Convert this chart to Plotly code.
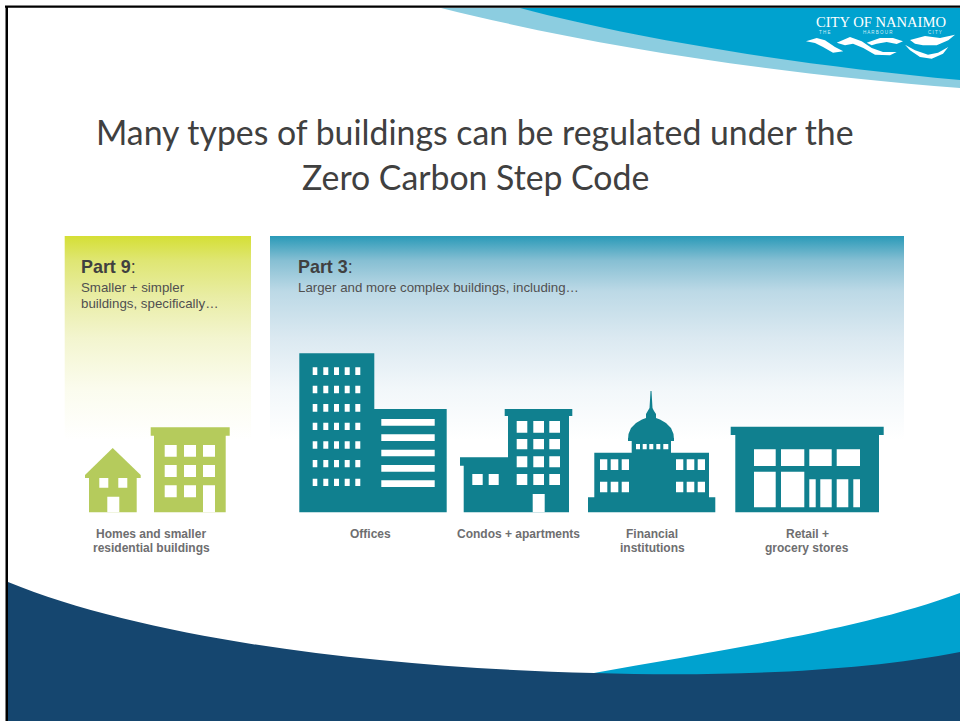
import plotly.graph_objects as go

W, H = 960, 721
NAVY = "#15466f"; CYAN = "#00a2cf"; PALE = "#8ccde0"; TEAL = "#10808f"; GREEN = "#b5cb5c"
GREY = "#6e6e70"; DARK = "#404040"; SUB = "#505050"

# ---- background swooshes (SVG paths in plot coordinates)
top_pale_path = "M 441 8 C 590 45 760 72 960 88 L 960 8 Z"
top_cyan_path = "M 520 8 C 640 40 800 65 960 80 L 960 8 Z"
bot_cyan_path = "M 594 673 C 720 650 860 630 960 593 L 960 721 L 594 721 Z"
bot_navy_path = "M 8 582 C 150 640 380 668 594 673 C 720 677 860 672 960 652 L 960 721 L 8 721 Z"

# ---- gradient panels: x0, x1, y0, y1
part9_panel = [64.7, 251, 236, 440]
part3_panel = [270, 904, 236, 440]
part9_stops = [[0, "#d5df35"], [0.12, "#dfe673"], [0.3, "#e9eda5"], [0.5, "#f3f5cf"], [0.75, "#fbfcee"], [1, "#ffffff"]]
part3_stops = [[0, "#2a9ab8"], [0.12, "#86bfd3"], [0.27, "#bcd9e6"], [0.5, "#dbe9f1"], [0.75, "#f2f7fa"], [1, "#ffffff"]]

# ---- buildings as rectangles: x0, x1, y0, y1
green_rects = [
    (89, 136.7, 476, 512.3),
    (150.7, 229.7, 427.3, 435.7),
    (154, 225.7, 435.7, 512.3),
]
house_roof_x = [85, 112.7, 140.7, 140.7, 85]
house_roof_y = [475, 448, 475, 478, 478]
green_holes = [
    (99.3, 108.3, 478, 487.7), (118.3, 127.3, 478, 487.7), (107.3, 119.3, 496.7, 512.3),
    (164.7, 176.7, 445, 456.7), (184, 196, 445, 456.7), (203, 215, 445, 456.7),
    (164.7, 176.7, 465, 477), (184, 196, 465, 477), (203, 215, 465, 477),
    (164.7, 176.7, 485.3, 497.3), (184, 196, 485.3, 497.3), (203, 215, 485.3, 512.3),
]
teal_rects = [
    (299.3, 374.3, 353.3, 512.3), (374, 446.7, 409, 512.3),
    (504.7, 572.3, 409, 416), (508, 569, 416, 512.3),
    (460, 508.5, 457.3, 465.7), (463.7, 508.5, 465.7, 512.3),
    (588, 715.3, 497.3, 512.3), (594.3, 709, 452.7, 497.5), (631.7, 671, 440, 453),
    (628, 674, 438, 441),
    (730.7, 883.7, 426.7, 435), (735.3, 879, 435, 512.3),
]
dome_x = [628, 628.5, 631, 636, 642, 646, 646, 648, 649.5, 650, 650.5, 651.5, 652, 652.5, 654, 656, 656, 660, 666, 671, 673.5, 674]
dome_y = [440, 434, 428, 423, 419.5, 418, 414, 411, 408, 400, 391, 391, 400, 408, 411, 414, 418, 419.5, 423, 428, 434, 440]
office_win_cols = [(312.7, 317.3), (323.3, 328.3), (334, 339), (344.7, 349.7), (355.3, 360.3)]
office_win_rows = [(367.3, 375), (385.7, 393.3), (404, 411.7), (422.7, 430), (441.3, 448.7), (460, 467.3), (478.7, 486)]
office_bar_rows = [(419, 425.7), (434.3, 441), (449.7, 456.3), (465, 471.7), (480.3, 487)]
office_bar_x = (381.3, 434.7)
condo_cols = [(516.7, 527.3), (533.3, 544), (549.3, 560)]
condo_rows = [(421, 432.7), (439, 449.3), (456.3, 467.3), (474, 485)]
other_holes = [
    (532.7, 544.7, 494, 512.3), (472.3, 482.7, 474, 485), (488.7, 498.7, 474, 485),
    (636, 640, 444, 449.3), (642.7, 646.7, 444, 449.3), (649.3, 653.3, 444, 449.3),
    (656.3, 660.3, 444, 449.3), (663.3, 668.3, 444, 449.3),
    (754, 775.7, 449.3, 466), (781, 804.3, 449.3, 466), (809.3, 831.7, 449.3, 466), (836.7, 860, 449.3, 466),
    (754, 775.7, 471.7, 507.3), (781, 804.3, 471.7, 507.3),
    (809.3, 815.7, 479.3, 507.3), (820.3, 831.7, 479.3, 507.3), (836.7, 848.3, 479.3, 507.3), (853.3, 860, 479.3, 507.3),
]
bank_cols = [(600, 607.3), (610.7, 618.3), (621.7, 629), (676, 683.3), (686.7, 694.3), (697.7, 705)]
bank_rows = [(459.3, 470), (481.7, 492.3)]

# ---- logo waves (x, y)
wave_polys = [
    ([806, 816.7, 825, 835, 843.3, 833, 823, 815], [41.3, 38, 40.3, 47, 51.3, 52.7, 47, 43]),
    ([836.7, 850, 861.7, 871.7, 883, 896.7, 890, 875, 863.3, 853, 845],
     [42.7, 37, 41.3, 48, 52, 52, 55.3, 54.7, 48, 43.7, 45.3]),
    ([866.7, 880, 893, 903, 896.7, 886.7, 876.7, 871.7], [42.7, 38, 38, 41.3, 44, 42, 43.7, 45.3]),
    ([910, 925, 940, 955, 948.3, 936.7, 923, 915], [40, 36, 38, 34.7, 40.3, 45.3, 45.3, 43.7]),
    ([905, 915, 928, 938, 948.3, 943, 931.7, 920, 910], [44.7, 50.3, 54.7, 52.7, 47, 53.7, 58.7, 57, 50.3]),
]

# ---- texts
title_lines = ["Many types of buildings can be regulated under the", "Zero Carbon Step Code"]
title_ys = [132, 177]
labels = [
    ("<b>Homes and smaller</b>", 151, 534), ("<b>residential buildings</b>", 151, 548),
    ("<b>Offices</b>", 370, 534), ("<b>Condos + apartments</b>", 518, 534),
    ("<b>Financial</b>", 652, 534), ("<b>institutions</b>", 652, 548),
    ("<b>Retail +</b>", 807, 534), ("<b>grocery stores</b>", 807, 548),
]
left_texts = [
    ("<b>Part 9</b>:", 80, 267, 17.9, DARK), ("Smaller + simpler", 80, 287, 13.3, SUB), ("buildings, specifically…", 80, 303, 13.3, SUB),
    ("<b>Part 3</b>:", 297, 267, 17.9, DARK), ("Larger and more complex buildings, including…", 297, 287, 13.3, SUB),
]
logo_small = [("T H E", 824), ("H A R B O U R", 878), ("C I T Y", 935)]

fig = go.Figure()


def poly(xs, ys, color):
    fig.add_trace(go.Scatter(x=xs, y=ys, mode="lines", fill="toself", fillcolor=color, line=dict(width=0), hoverinfo="skip"))


def rects(items, color):
    xs, ys = [], []
    for x0, x1, y0, y1 in items:
        xs += [x0, x1, x1, x0, x0, None]
        ys += [y0, y0, y1, y1, y0, None]
    poly(xs, ys, color)


def panel(p, stops):
    x0, x1, y0, y1 = p
    fig.add_trace(go.Scatter(
        x=[x0, x1, x1, x0, x0], y=[y0, y0, y1, y1, y0], mode="lines", fill="toself",
        line=dict(width=0), hoverinfo="skip",
        fillgradient=dict(type="vertical", colorscale=stops, start=y0, stop=y1),
    ))


for path, color in [(top_pale_path, PALE), (top_cyan_path, CYAN), (bot_cyan_path, CYAN), (bot_navy_path, NAVY)]:
    fig.add_shape(type="path", path=path, xref="x", yref="y", fillcolor=color, line=dict(width=0), layer="below")

panel(part9_panel, part9_stops)
panel(part3_panel, part3_stops)
rects(green_rects, GREEN)
poly(house_roof_x, house_roof_y, GREEN)
rects(teal_rects, TEAL)
poly(dome_x, dome_y, TEAL)
rects(green_holes, "#ffffff")
rects([(a, b, c, d) for a, b in office_win_cols for c, d in office_win_rows], "#ffffff")
rects([(office_bar_x[0], office_bar_x[1], c, d) for c, d in office_bar_rows], "#ffffff")
rects([(a, b, c, d) for a, b in condo_cols for c, d in condo_rows], "#ffffff")
rects([(a, b, c, d) for a, b in bank_cols for c, d in bank_rows], "#ffffff")
rects(other_holes, "#ffffff")
for wx, wy in wave_polys:
    poly(wx, wy, "#ffffff")
# slide frame
rects([(5, 960, 5.5, 7.8), (5.5, 8, 5.5, 721)], "#000000")

for t, y in zip(title_lines, title_ys):
    fig.add_annotation(x=475, y=y, text=t, showarrow=False, xanchor="center", yanchor="middle",
                       font=dict(family="Lato", size=33.8, color="#404040"))
for t, x, y in labels:
    fig.add_annotation(x=x, y=y, text=t, showarrow=False, xanchor="center", yanchor="middle",
                       font=dict(family="Liberation Sans", size=12, color=GREY))
for t, x, y, s, c in left_texts:
    fig.add_annotation(x=x, y=y, text=t, showarrow=False, xanchor="left", yanchor="middle", xshift=-1,
                       font=dict(family="Liberation Sans", size=s, color=c))
# logo text
fig.add_annotation(x=881, y=22, text="CITY OF NANAIMO", showarrow=False,
                   font=dict(family="Liberation Serif", size=14.6, color="#ffffff"))
for t, x in logo_small:
    fig.add_annotation(x=x, y=32.5, text=t, showarrow=False,
                       font=dict(family="Liberation Sans", size=4.5, color="#cfeef7"))

fig.update_layout(
    width=W, height=H, margin=dict(l=0, r=0, t=0, b=0), showlegend=False,
    paper_bgcolor="#ffffff", plot_bgcolor="rgba(0,0,0,0)",
    xaxis=dict(range=[0, W], visible=False, fixedrange=True),
    yaxis=dict(range=[H, 0], visible=False, fixedrange=True),
)
fig.write_html("out.html", config=dict(displayModeBar=False),
               post_script="document.body.style.margin='0';")
